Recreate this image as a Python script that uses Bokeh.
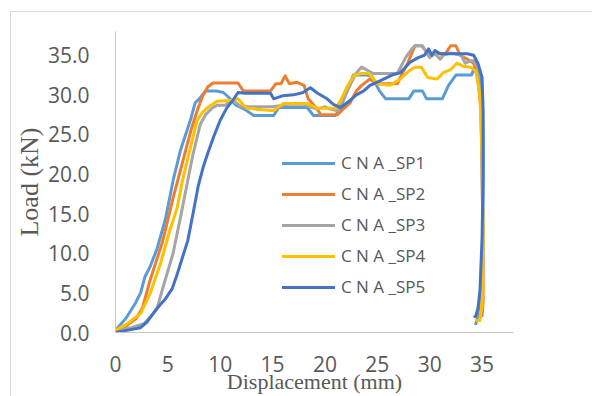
from bokeh.plotting import figure
from bokeh.models import Range1d, FixedTicker, PrintfTickFormatter, Legend, LegendItem, Title
from bokeh.embed import file_html
from bokeh.resources import INLINE

# ---- data ----
series_names = ["C N A _SP1", "C N A _SP2", "C N A _SP3", "C N A _SP4", "C N A _SP5"]
series_colors = ["#5B9BD5", "#ED7D31", "#A5A5A5", "#FFC000", "#4472C4"]

sp1_x = [0, 1.0, 1.9, 2.4, 2.8, 3.3, 4.0, 4.8, 5.5, 6.2, 6.7, 7.2, 7.6, 8.0, 8.6, 9.6, 10.3, 10.8,
         11.5, 12.3, 13.2, 15.1, 15.6, 18.3, 18.9, 21.0, 21.5, 22.1, 22.7, 24.0, 24.5, 25.2, 25.8,
         28.0, 28.5, 29.3, 29.7, 31.2, 31.8, 32.5, 34.0, 34.4, 34.7, 35.0, 35.1, 35.1, 35.0, 34.8, 34.5, 34.4]
sp1_y = [0.3, 1.8, 3.7, 5.0, 7.0, 8.3, 10.7, 14.5, 19.2, 23.0, 25.0, 27.0, 29.0, 29.5, 30.5, 30.5, 30.3, 29.7,
         28.7, 28.2, 27.4, 27.4, 28.4, 28.4, 27.4, 27.4, 28.4, 30.5, 32.5, 32.5, 32.3, 30.5, 29.5,
         29.5, 30.5, 30.5, 29.5, 29.5, 31.2, 32.5, 32.5, 34.0, 33.0, 30.0, 25.0, 15.0, 8.0, 4.0, 1.5, 1.1]

sp2_x = [0, 1.0, 2.0, 2.6, 3.3, 4.5, 5.5, 6.0, 6.6, 7.2, 7.8, 8.3, 8.8, 9.3, 11.7, 12.2, 14.8, 15.3,
         15.8, 16.2, 16.6, 17.3, 18.0, 18.4, 19.2, 19.6, 21.2, 21.8, 22.4, 23.0, 23.5, 24.3, 24.9,
         26.9, 27.5, 27.9, 28.3, 28.6, 29.2, 29.9, 31.5, 32.0, 32.5, 32.9, 33.6, 34.2, 34.6, 34.9,
         35.0, 35.1, 35.1, 35.0, 34.7]
sp2_y = [0.3, 0.8, 1.8, 3.2, 6.6, 11.5, 17.0, 19.5, 22.5, 25.5, 28.0, 29.8, 31.0, 31.5, 31.5, 30.5, 30.5, 31.4,
         31.4, 32.4, 31.4, 31.6, 31.2, 29.5, 28.3, 27.5, 27.5, 28.3, 29.0, 30.5, 31.2, 32.0, 31.4,
         31.4, 33.0, 34.0, 35.3, 36.2, 36.2, 35.2, 35.2, 36.2, 36.2, 35.0, 34.5, 34.0, 32.0, 28.0,
         20.0, 10.0, 4.0, 2.1, 2.1]

sp3_x = [0, 1.5, 2.7, 3.5, 4.0, 4.6, 5.5, 6.2, 6.9, 7.4, 8.1, 8.6, 9.2, 9.7, 10.5, 11.0, 11.5, 12.0,
         15.0, 16.5, 18.0, 18.5, 19.3, 20.0, 20.5, 21.2, 21.8, 22.5, 23.0, 23.5, 24.6, 26.9, 27.7,
         28.3, 28.6, 29.3, 30.0, 30.5, 31.0, 31.3, 32.0, 33.0, 33.4, 33.9, 34.3, 34.6, 34.9, 35.0,
         35.1, 35.0, 34.8]
sp3_y = [0.3, 0.6, 1.1, 2.2, 3.2, 6.0, 10.0, 14.5, 19.2, 22.5, 26.3, 27.5, 28.3, 28.7, 28.7, 29.3, 29.0, 28.5,
         28.5, 28.8, 28.8, 28.5, 28.2, 28.5, 28.2, 28.0, 29.5, 31.5, 32.8, 33.5, 32.7, 32.7, 34.7,
         35.8, 36.2, 36.2, 34.7, 35.2, 34.5, 35.0, 35.3, 35.0, 34.0, 34.3, 34.3, 33.0, 29.0, 20.0,
         10.0, 3.0, 2.0]

sp4_x = [0, 1.0, 2.4, 3.3, 4.3, 5.1, 5.9, 6.4, 7.0, 7.8, 8.3, 8.8, 9.7, 11.0, 11.7, 12.3, 12.6, 15.1,
         16.0, 18.3, 19.3, 21.0, 21.5, 22.1, 22.8, 23.4, 24.2, 25.0, 26.2, 27.2, 28.0, 28.6, 29.2,
         29.8, 30.7, 31.3, 32.0, 32.6, 33.2, 33.9, 34.4, 34.8, 35.0, 35.1, 35.0, 34.8, 34.5]
sp4_y = [0.3, 1.0, 2.4, 4.9, 8.7, 12.5, 15.8, 19.2, 22.5, 26.8, 27.8, 28.4, 29.2, 29.3, 29.5, 28.6, 28.3, 28.0,
         28.9, 28.9, 28.3, 28.3, 29.3, 31.0, 32.5, 32.7, 32.7, 31.4, 31.2, 32.0, 33.0, 33.5, 33.5,
         32.2, 32.0, 32.8, 33.2, 34.0, 33.6, 33.5, 33.0, 30.0, 22.0, 12.0, 4.0, 1.5, 1.5]

sp5_x = [0, 1.2, 2.4, 3.0, 3.6, 4.2, 4.8, 5.4, 5.9, 6.4, 6.9, 7.4, 7.9, 8.4, 8.8, 9.4, 10.0, 10.6,
         11.2, 11.7, 12.4, 14.8, 15.1, 16.0, 17.0, 17.9, 18.6, 19.3, 20.2, 20.8, 21.5, 22.4, 23.0,
         23.7, 24.3, 25.3, 26.4, 27.2, 28.1, 28.9, 29.5, 29.9, 30.2, 30.5, 31.0, 33.6, 34.2, 34.6,
         35.0, 35.1, 35.1, 35.0, 34.8, 34.6, 34.4, 34.3]
sp5_y = [0.0, 0.3, 0.6, 1.3, 2.4, 3.4, 4.3, 5.5, 7.4, 9.5, 11.6, 15.0, 18.5, 21.0, 22.6, 24.8, 26.8, 28.3,
         29.3, 30.3, 30.2, 30.2, 29.5, 29.9, 30.0, 30.3, 30.9, 30.2, 29.5, 28.8, 28.4, 29.3, 30.0,
         30.5, 31.2, 31.8, 32.5, 32.8, 34.1, 34.7, 35.0, 35.8, 35.0, 35.6, 35.2, 35.2, 35.0, 34.0,
         32.2, 28.0, 20.0, 12.0, 5.3, 3.0, 2.1, 2.0]

xs_all = [sp1_x, sp2_x, sp3_x, sp4_x, sp5_x]
ys_all = [sp1_y, sp2_y, sp3_y, sp4_y, sp5_y]

x_ticks = [0, 5, 10, 15, 20, 25, 30, 35]
y_ticks = [0, 5, 10, 15, 20, 25, 30, 35]
x_title = "Displacement (mm)"
y_title = "Load (kN)"

# ---- figure ----
p = figure(width=592, height=396, x_range=Range1d(0, 38), y_range=Range1d(0, 38),
           output_backend="svg", toolbar_location=None,
           min_border_left=115, min_border_right=79, min_border_top=31, min_border_bottom=64)
p.outline_line_color = None
p.border_fill_color = None
p.styles = {"background": "linear-gradient(#d9d9d9, #d9d9d9) 10px 11px / 1px 100% no-repeat, "
                          "linear-gradient(#d9d9d9, #d9d9d9) 10px 11px / 100% 1px no-repeat, white"}
p.xgrid.visible = False
p.ygrid.visible = False

for ax in (p.xaxis, p.yaxis):
    ax.axis_line_color = "#C6C6C6"
    ax.axis_line_width = 1
    ax.major_tick_line_color = None
    ax.minor_tick_line_color = None
    ax.major_label_text_font = "Open Sans"
    ax.major_label_text_font_size = "21px"
    ax.major_label_text_color = "#595959"
p.xaxis.ticker = FixedTicker(ticks=x_ticks)
p.yaxis.ticker = FixedTicker(ticks=y_ticks)
p.yaxis.formatter = PrintfTickFormatter(format="%.1f")
p.xaxis.major_label_standoff = 17
p.yaxis.major_label_standoff = 20

p.xaxis.axis_label = x_title
p.xaxis.axis_label_text_font = "Liberation Serif"
p.xaxis.axis_label_text_font_size = "22px"
p.xaxis.axis_label_text_font_style = "normal"
p.xaxis.axis_label_text_color = "#595959"
p.xaxis.axis_label_standoff = -6

p.add_layout(Title(text=y_title, align="center", offset=-36, standoff=2,
                   text_font="Liberation Serif", text_font_size="26px",
                   text_font_style="normal", text_color="#595959"), "left")

items = []
for name, col, xs, ys in zip(series_names, series_colors, xs_all, ys_all):
    r = p.line(xs, ys, line_color=col, line_width=3, line_join="round", line_cap="round")
    items.append(LegendItem(label=name, renderers=[r]))

legend = Legend(items=items, location=(167, 34), glyph_width=53, glyph_height=20,
                label_height=20, label_standoff=6, spacing=8, padding=0, margin=0,
                border_line_color=None, background_fill_alpha=0,
                label_text_font="Open Sans", label_text_font_size="17px",
                label_text_color="#595959")
p.add_layout(legend)

open("out.html", "w").write(file_html(p, INLINE))
